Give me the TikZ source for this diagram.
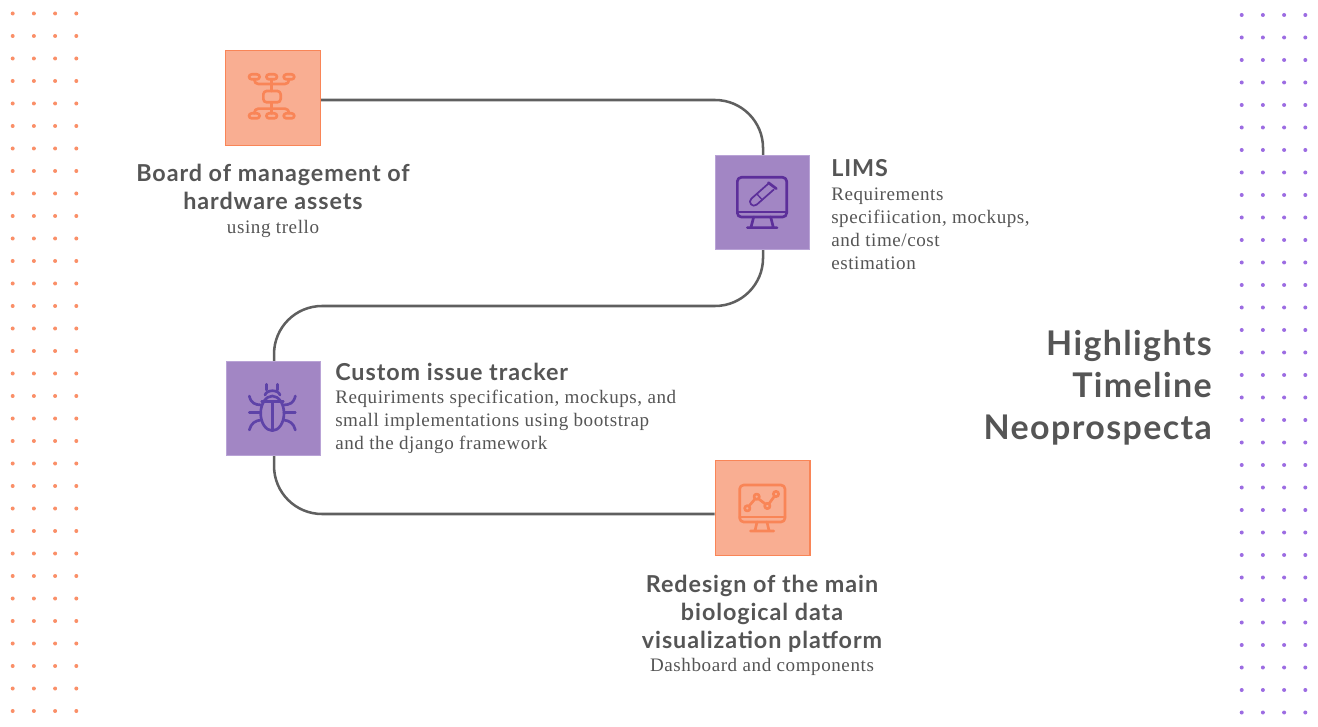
\documentclass[tikz,border=0pt]{standalone}
\usepackage{fontspec}
\setmainfont{Liberation Serif}
\newfontfamily\headfont[LetterSpace=4]{Lato}
\newfontfamily\bodyfont[LetterSpace=3]{Liberation Serif}
\usepackage{xcolor}
\usetikzlibrary{positioning}
\definecolor{textgray}{HTML}{555555}
\definecolor{linegray}{HTML}{5F5F5F}
\definecolor{orangefill}{HTML}{F9AE92}
\definecolor{orangeline}{HTML}{F98557}
\definecolor{purplefill}{HTML}{A286C4}
\definecolor{purpleline}{HTML}{B9A3D6}
\definecolor{limsicon}{HTML}{5C2F9A}
\definecolor{bugicon}{HTML}{5E43A8}
\definecolor{orangedot}{HTML}{FA8F68}
\definecolor{purpledot}{HTML}{9C6CE2}
\tikzset{
    orangebox/.style={
        draw=orangeline,
        fill=orangefill,
        line width=1pt,
        minimum size=71pt,
        inner sep=0pt
    },
    purplebox/.style={
        draw=purpleline,
        fill=purplefill,
        line width=0.6pt,
        minimum size=71pt,
        inner sep=0pt
    },
    connector/.style={
        draw=linegray,
        line width=1.9pt,
        rounded corners=36pt
    },
    icon/.style={
        line width=2pt,
        line cap=round,
        line join=round
    },
    heading/.style={
        text=textgray,
        align=center,
        inner sep=0pt,
        font=\headfont\bfseries\fontsize{17.5}{21}\selectfont
    },
    detail/.style={
        text=textgray,
        align=left,
        inner sep=0pt,
        font=\bodyfont\fontsize{14.3}{17.25}\selectfont
    },
    bigtitle/.style={
        text=textgray,
        align=right,
        inner sep=0pt,
        font=\headfont\bfseries\fontsize{25.5}{31.5}\selectfont
    }
}
\begin{document}
\begin{tikzpicture}[x=0.75pt,y=-0.75pt]
    \useasboundingbox (0,0) rectangle (1318,727);

    % dot columns
    \foreach \row in {0,...,31} {
        \foreach \col in {0,...,3} {
            \fill[orangedot] (12.7+21.2*\col,13.5+22.5*\row) circle (2);
            \fill[purpledot] (1241.7+21.2*\col,15+22.5*\row) circle (2);
        }
    }

    \node[orangebox] (board) at (273,98) {};
    \node[purplebox] (lims) at (762.5,202.5) {};
    \node[purplebox] (bug) at (273.5,408.5) {};
    \node[orangebox] (redesign) at (762.5,508) {};
    \coordinate (bendA) at (520,306);

    \draw[connector] ([yshift=-1.5pt]board.east) -| ([xshift=.4pt]lims.north);
    \draw[connector] ([xshift=.4pt]lims.south) |- (bendA) -| ([xshift=.4pt]bug.north);
    \draw[connector] ([xshift=.4pt]bug.south) |- ([yshift=-4.5pt]redesign.west);

    % board icon
    \begin{scope}[shift={(215,40)},x=0.25pt,y=-0.25pt,icon,draw=orangeline]
        \foreach \px in {118,170,222} {
            \draw[rounded corners=2pt] (\px-16,103) rectangle (\px+16,118);
            \draw[rounded corners=2pt] (\px-16,220) rectangle (\px+16,235);
        }
        \draw[rounded corners=2.5pt] (145,153) rectangle (197,187);
        \draw (170,118) -- (170,153) (170,187) -- (170,220);
        \draw[rounded corners=3pt] (118,118) -- (118,132) -- (222,132) -- (222,118);
        \draw[rounded corners=3pt] (118,220) -- (118,206) -- (222,206) -- (222,220);
    \end{scope}

    % lims icon
    \begin{scope}[shift={(705,145)},x=0.25pt,y=-0.25pt,icon,draw=limsicon]
        \draw[rounded corners=3pt] (97,97) rectangle (245,216);
        \draw (97,201) -- (245,201);
        \draw (146,216) -- (138,247) (197,216) -- (205,247) (127,248) -- (216,248);
        \draw (190,113) -- (214,131);
        \draw[line width=1.3pt] (190,116) -- (139,161) .. controls (127,171.5) and (143,189.5) .. (155,179) -- (206,134);
        \draw[line width=1pt] (155,146) -- (172,165);
    \end{scope}

    % bug icon
    \begin{scope}[shift={(215,350)},x=0.25pt,y=-0.25pt,icon,draw=bugicon]
        \draw (172,190) ellipse (35 and 52);
        \draw (140,155) -- (205,155) (172,155) -- (172,240);
        \draw (150,135) .. controls (155,118) and (190,118) .. (195,135);
        \draw (155,103) -- (155,120) (188,103) -- (188,120);
        \draw (103,138) .. controls (108,160) and (120,164) .. (138,165);
        \draw (103,187) -- (137,187);
        \draw (103,240) .. controls (108,220) and (120,212) .. (138,210);
        \draw (241,138) .. controls (236,160) and (224,164) .. (206,165);
        \draw (241,187) -- (207,187);
        \draw (241,240) .. controls (236,220) and (224,212) .. (206,210);
    \end{scope}

    % chart icon
    \begin{scope}[shift={(705,450)},x=0.25pt,y=-0.25pt,icon,draw=orangeline]
        \draw[rounded corners=3pt] (104,105) rectangle (240,216);
        \draw (104,201) -- (240,201);
        \draw (156,216) -- (150,242) (186,216) -- (192,242) (136,243) -- (206,243);
        \draw (127,175) circle (8) (155,140) circle (8) (187,168) circle (8) (213,132) circle (8);
        \draw (132,168) -- (150,147) (160,146) -- (181,162) (192,161) -- (208,139);
    \end{scope}

    \node[heading] (boardhead) at (273,186.5) {Board of management of\\hardware assets};
    \node[detail,align=center] (boardtext) at (273,228.5) {using trello};

    \node[heading,anchor=west] (limshead) at (831,168) {LIMS};
    \node[detail,anchor=north west] (limstext) at (831,188) {Requirements\\specifiication, mockups,\\and time/cost\\estimation};

    \node[heading,anchor=west] (bughead) at (335,372) {Custom issue tracker};
    \node[detail,anchor=north west] (bugtext) at (335,390) {Requiriments specification, mockups, and\\small implementations using bootstrap\\and the django framework};

    \node[heading] (redesignhead) at (762,614) {Redesign of the main\\biological data\\visualization platform};
    \node[detail,align=center] (redesigntext) at (762,666.5) {Dashboard and components};

    \node[bigtitle,anchor=north east] (title) at (1212,330) {Highlights\\Timeline\\Neoprospecta};
\end{tikzpicture}
\end{document}
